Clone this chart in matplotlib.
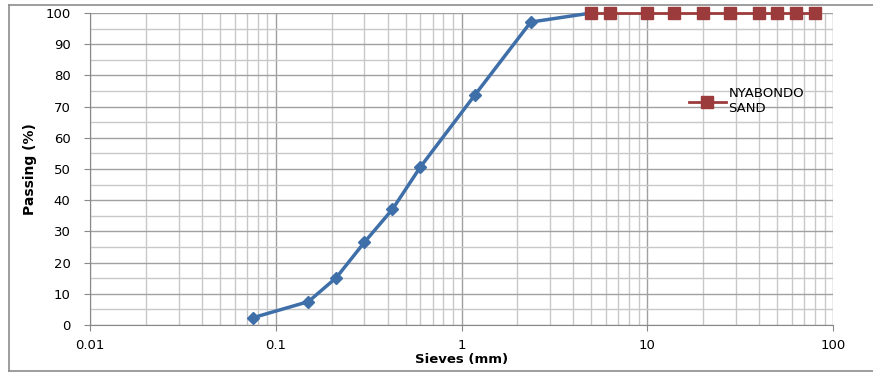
import matplotlib.pyplot as plt
from matplotlib.lines import Line2D
from matplotlib.ticker import FixedLocator, LogLocator, NullFormatter

# grading curve
sieve_sizes = [0.075, 0.15, 0.212, 0.3, 0.425, 0.6, 1.18, 2.36, 5.0]
passing = [2.3, 7.5, 15.2, 26.5, 37.1, 50.6, 73.7, 97.1, 100]

# coarse sieves (all 100 % passing)
coarse_sizes = [5.0, 6.3, 10, 14, 20, 28, 40, 50, 63, 80]
coarse_passing = [100, 100, 100, 100, 100, 100, 100, 100, 100, 100]

x_ticks = [0.01, 0.1, 1, 10, 100]
x_tick_labels = ['0.01', '0.1', '1', '10', '100']
y_ticks = [0, 10, 20, 30, 40, 50, 60, 70, 80, 90, 100]

fig = plt.figure(figsize=(8.73, 3.73), dpi=100)
ax = fig.add_axes([90/873, 1 - 325/373, 743/873, 312/373])

# outer chart frame: top, left, bottom (right edge runs off the picture)
fx0, fy0, fy1 = 9/873, 1 - 371/373, 1 - 5/373
for xs, ys in [([fx0, 1.0], [fy1, fy1]), ([fx0, fx0], [fy0, fy1]), ([fx0, 1.0], [fy0, fy0])]:
    fig.lines.append(Line2D(xs, ys, transform=fig.transFigure, color='#8c8c8c', linewidth=1.2))

ax.set_xscale('log')
ax.set_xlim(0.01, 100)
ax.set_ylim(0, 100)

ax.xaxis.set_major_locator(FixedLocator(x_ticks))
ax.set_xticklabels(x_tick_labels)
ax.xaxis.set_minor_locator(LogLocator(base=10, subs=range(2, 10)))
ax.xaxis.set_minor_formatter(NullFormatter())
ax.yaxis.set_major_locator(FixedLocator(y_ticks))
ax.yaxis.set_minor_locator(FixedLocator(range(5, 100, 10)))

ax.grid(which='major', color='#a0a0a0', linewidth=1.0)
ax.grid(which='minor', color='#c8c8c8', linewidth=1.0)
ax.set_axisbelow(True)

for side in ['top', 'right']:
    ax.spines[side].set_visible(False)
for side in ['left', 'bottom']:
    ax.spines[side].set_color('#888888')

ax.tick_params(which='major', length=4, color='#888888', labelsize=9.5, pad=6)
ax.tick_params(which='minor', length=0)
ax.tick_params(axis='y', pad=10)
for lab in ax.get_xticklabels() + ax.get_yticklabels():
    lab.set_family('DejaVu Sans')

ax.plot(sieve_sizes, passing, color='#3f6fa8', linewidth=2.5, marker='D',
        markersize=6, clip_on=False, zorder=3)
ax.plot(coarse_sizes, coarse_passing, color='#9c3b3b', linewidth=2, marker='s',
        markersize=9, clip_on=False, zorder=4, label='NYABONDO\nSAND')

leg = ax.legend(loc='upper left', bbox_to_anchor=(0.79, 0.8), frameon=False,
                fontsize=9.5, handlelength=2.8, handletextpad=0.2)

ax.set_xlabel('Sieves (mm)', fontsize=9.5, fontweight='bold', family='DejaVu Sans', labelpad=1)
ax.set_ylabel('Passing (%)', fontsize=10, fontweight='bold', family='Liberation Sans Narrow', labelpad=6)

plt.savefig('out.png', dpi=100)
plt.close()
